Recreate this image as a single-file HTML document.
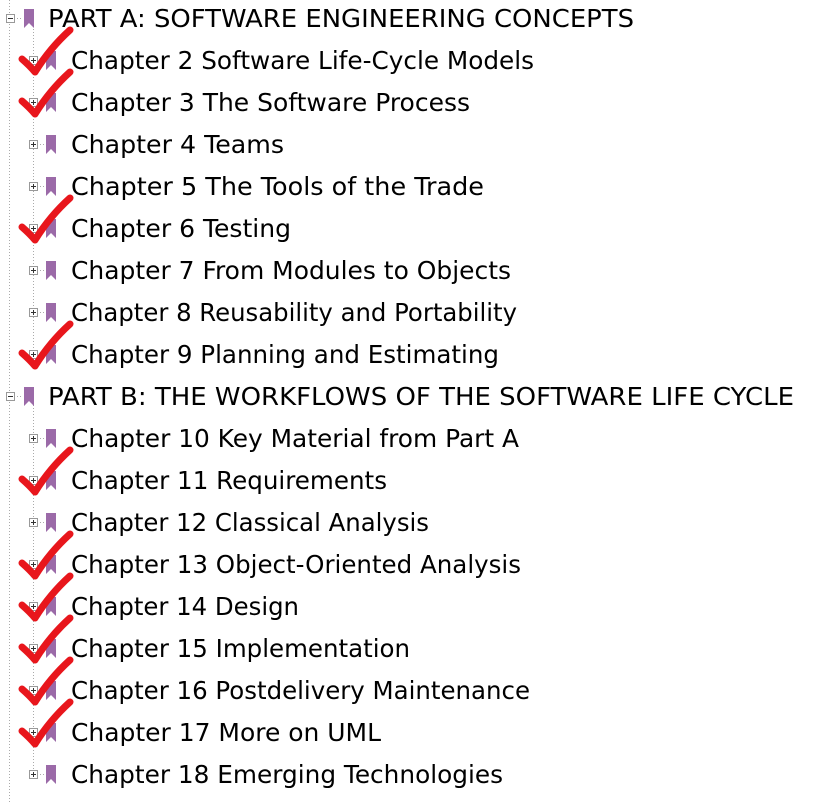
<!DOCTYPE html>
<html><head><meta charset="utf-8"><style>
html,body{margin:0;padding:0;background:#fff;width:825px;height:804px;overflow:hidden}
text{font-family:"DejaVu Sans","Liberation Sans",sans-serif;font-size:25px;fill:#000}
</style></head><body>
<svg id="s" width="825" height="804" xmlns="http://www.w3.org/2000/svg"></svg>
<script>
const labels=["PART A: SOFTWARE ENGINEERING CONCEPTS","Chapter 2 Software Life-Cycle Models","Chapter 3 The Software Process","Chapter 4 Teams","Chapter 5 The Tools of the Trade","Chapter 6 Testing","Chapter 7 From Modules to Objects","Chapter 8 Reusability and Portability","Chapter 9 Planning and Estimating","PART B: THE WORKFLOWS OF THE SOFTWARE LIFE CYCLE","Chapter 10 Key Material from Part A","Chapter 11 Requirements","Chapter 12 Classical Analysis","Chapter 13 Object-Oriented Analysis","Chapter 14 Design","Chapter 15 Implementation","Chapter 16 Postdelivery Maintenance","Chapter 17 More on UML","Chapter 18 Emerging Technologies"];
const ends=[634,534,470,284,484,291,511,517,499,794,519,387,429,521,299,410,530,381,503];
const checked=[0,1,1,0,0,1,0,0,1,0,0,1,0,1,1,1,1,1,0];
const NS="http://www.w3.org/2000/svg";
const s=document.getElementById('s');
function mk(t,a,p){const e=document.createElementNS(NS,t);for(const k in a)e.setAttribute(k,a[k]);(p||s).appendChild(e);return e;}
mk('line',{x1:9.5,y1:0,x2:9.5,y2:804,stroke:'#aaa','stroke-dasharray':'1,2'});
mk('line',{x1:33.5,y1:26,x2:33.5,y2:370,stroke:'#aaa','stroke-dasharray':'1,2'});
mk('line',{x1:33.5,y1:405,x2:33.5,y2:776,stroke:'#aaa','stroke-dasharray':'1,2'});
labels.forEach((l,i)=>{
  const y=18+42*i;const part=l.startsWith('PART');
  const g=mk('g',{});
  
  
  const bx=part?6:29, ix=part?24:46, tx=part?48:71;
  mk('line',{x1:bx+8,y1:y+0.5,x2:ix-1,y2:y+0.5,stroke:'#aaa','stroke-dasharray':'1,2'},g);
  const b=mk('rect',{x:bx+0.5,y:y-3.5,width:8,height:8,fill:'#fff',stroke:'#999'},g);
  
  
  mk('line',{x1:bx+2,y1:y+0.5,x2:bx+7,y2:y+0.5,stroke:'#333'},g);
  if(!part)mk('line',{x1:bx+4.5,y1:y-2,x2:bx+4.5,y2:y+3,stroke:'#333'},g);
  const ic=mk('path',{d:`M${ix},${y-9} h10 v19 l-5,-5 l-5,5 z`,fill:'#9b6aa8'},g);
  
  
  const t=mk('text',{x:tx,y:y+9,textLength:ends[i]-tx,lengthAdjust:'spacingAndGlyphs'},g);
  t.textContent=l;
  
  
  if(checked[i]){
    const c=mk('path',{d:`M22,${y-1} Q30,${y+6} 35,${y+12} Q50,${y-12} 70,${y-30}`,fill:'none',stroke:'#e8161c','stroke-width':7,'stroke-linecap':'round','stroke-linejoin':'round'});
    
    
  }
});
</script>
</body></html>
